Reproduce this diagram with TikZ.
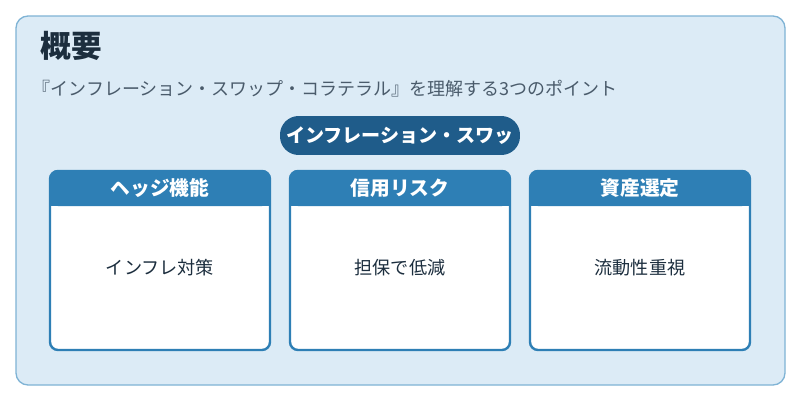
\documentclass[tikz,border=0pt]{standalone}
\usepackage{fontspec}
\newfontfamily\cjk{Noto Sans CJK JP}
\begin{document}
\begin{tikzpicture}[x=0.75pt,y=-0.75pt,font=\cjk,
  card/.style={draw=cardblue,line width=1.8pt,fill=white,rounded corners=6pt},
  head/.style={fill=cardblue,rounded corners=6pt},
  htext/.style={text=white,font=\cjk\bfseries\fontsize{14.8}{17}\selectfont},
  btext/.style={text=textdark,font=\cjk\fontsize{13.6}{16}\selectfont}]
\definecolor{bg}{HTML}{DCEBF6}
\definecolor{border}{HTML}{7FB3D5}
\definecolor{cardblue}{HTML}{2E7FB5}
\definecolor{pill}{HTML}{1F5C8A}
\definecolor{textdark}{HTML}{1C2E3E}
\definecolor{sub}{HTML}{4A5B6B}
\useasboundingbox (0,0) rectangle (800,400);
\fill[white] (0,0) rectangle (800,400);
\draw[draw=border,fill=bg,line width=1pt,rounded corners=9pt] (16,16) rectangle (785,385);
\node[anchor=west,text=textdark,font=\cjk\bfseries\fontsize{23}{26}\selectfont] (title) at (36,46) {概要};
\node[anchor=west,text=sub,font=\cjk\fontsize{13.5}{16}\selectfont] (subt) at (28,89) {『インフレーション・スワップ・コラテラル』を理解する3つのポイント};
\begin{scope}
\clip[rounded corners=14pt] (280,116) rectangle (520,155);
\fill[pill] (280,116) rectangle (520,155);
\node[text=white,font=\cjk\bfseries\fontsize{14.3}{16}\selectfont] (pt) at (400,135.5) {インフレーション・スワッ};
\end{scope}
\foreach \x/\h/\b/\n in {50/ヘッジ機能/インフレ対策/a,290/信用リスク/担保で低減/b,530/資産選定/流動性重視/c}{
  \draw[card] (\x,171) rectangle (\x+220,350);
  \fill[head] (\x,170) rectangle (\x+220,206);
  \fill[cardblue] (\x,196) rectangle (\x+220,206);
  \node[htext] (h\n) at (\x+110,188) {\h};
  \node[btext] (b\n) at (\x+110,268) {\b};
}
\end{tikzpicture}
\end{document}
